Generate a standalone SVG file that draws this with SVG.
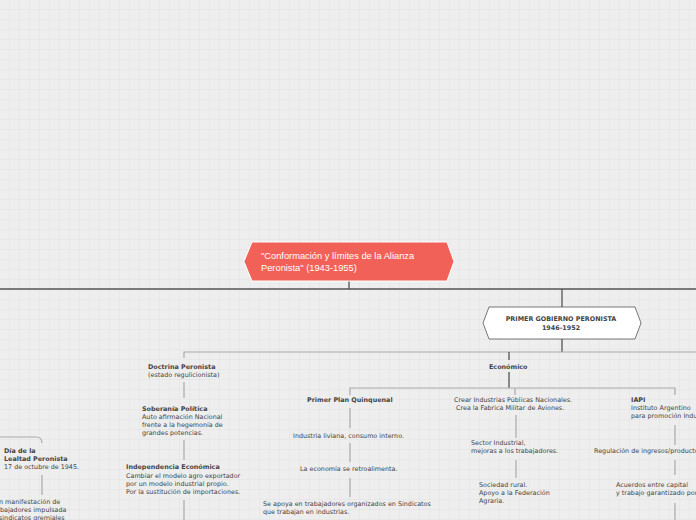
<svg xmlns="http://www.w3.org/2000/svg" width="696" height="520" viewBox="0 0 696 520">
<defs>
<pattern id="grid" width="10" height="10" patternUnits="userSpaceOnUse"><path d="M10 0V10H0" fill="none" stroke="#dcdcdc" stroke-width="0.6"/></pattern>
<style>
text{font-family:"DejaVu Sans",Verdana,sans-serif;font-size:6.4px;fill:#444}
.b{font-weight:bold}
.ln{stroke:#aaa;stroke-width:1.2;fill:none}
.dk{stroke:#555;stroke-width:1.3;fill:none}
</style>
</defs>
<rect width="696" height="520" fill="#eeeeee"/>
<rect width="696" height="520" fill="url(#grid)"/>
<g id="connectors">
<path class="dk" d="M0 289H696M349 281V289M562 289V307M562 339V352"/>
<path class="ln" d="M184 358V352H696"/>
<path class="ln" d="M184 382V398M184 440V460M184 500V520"/>
<path class="ln" d="M0 437H36Q42 437 42 443M42 475V495"/>
<path class="dk" d="M509 352V360M509 372V388"/>
<path class="ln" d="M350 395V388H675V395M515 388V395"/>
<path class="ln" d="M350 408V428M350 443V462M350 478V497"/>
<path class="ln" d="M516 415V438M516 460V478"/>
<path class="ln" d="M675 425V445M675 460V475M675 503V520"/>
</g>
<g id="central">
<polygon points="252,242 447,242 454,261.5 447,281 252,281 244,261.5" fill="#f26157" stroke="#fff" stroke-width="1"/>
<text x="261" y="259" style="fill:#fff;font-family:'Liberation Sans',Arial,sans-serif;font-size:9.3px">"Conformación y límites de la Alianza</text>
<text x="261" y="271" style="fill:#fff;font-family:'Liberation Sans',Arial,sans-serif;font-size:9.3px">Peronista" (1943-1955)</text>
</g>
<g id="primer">
<polygon points="489,307 635,307 641,323 635,339 489,339 483,323" fill="#fff" stroke="#555" stroke-width="0.8"/>
<text class="b" x="561" y="321" text-anchor="middle">PRIMER GOBIERNO PERONISTA</text>
<text class="b" x="561" y="330" text-anchor="middle">1946-1952</text>
</g>
<g id="doctrina"><text class="b" x="148" y="369">Doctrina Peronista</text><text x="148" y="377">(estado regulicionista)</text></g>
<g id="soberania"><text class="b" x="142" y="411">Soberanía Política</text><text x="142" y="419">Auto afirmación Nacional</text><text x="142" y="427">frente a la hegemonía de</text><text x="142" y="435">grandes potencias.</text></g>
<g id="independencia"><text class="b" x="126" y="469">Independencia Económica</text><text x="126" y="478">Cambiar el modelo agro exportador</text><text x="126" y="486">por un modelo industrial propio.</text><text x="126" y="494">Por la sustitución de importaciones.</text></g>
<g id="lealtad"><text class="b" x="4" y="453">Día de la</text><text class="b" x="4" y="461">Lealtad Peronista</text><text x="4" y="469">17 de octubre de 1945.</text></g>
<g id="manifestacion"><text x="-1" y="504">n manifestación de</text><text x="-4" y="512">abajadores impulsada</text><text x="-1" y="520">sindicatos gremiales</text></g>
<g id="economico"><text class="b" x="489" y="369">Económico</text></g>
<g id="plan"><text class="b" x="307" y="402">Primer Plan Quinquenal</text></g>
<g id="liviana"><text x="293" y="438">Industria liviana, consumo interno.</text></g>
<g id="retro"><text x="300" y="471">La economía se retroalimenta.</text></g>
<g id="sindicatos"><text x="263" y="506">Se apoya en trabajadores organizados en Sindicatos</text><text x="263" y="514">que trabajan en industrias.</text></g>
<g id="crear"><text x="454" y="402">Crear  Industrias Públicas Nacionales.</text><text x="456" y="410">Crea la Fabrica Militar de Aviones.</text></g>
<g id="sector"><text x="471" y="445">Sector Industrial,</text><text x="471" y="453">mejoras a los trabajadores.</text></g>
<g id="rural"><text x="479" y="487">Sociedad rural.</text><text x="479" y="495">Apoyo a la Federación</text><text x="479" y="503">Agraria.</text></g>
<g id="iapi"><text class="b" x="631" y="402">IAPI</text><text x="631" y="410">Instituto Argentino</text><text x="631" y="418">para promoción Industrial</text></g>
<g id="regulacion"><text x="594" y="453">Regulación de ingresos/productos</text></g>
<g id="acuerdos"><text x="616" y="487">Acuerdos entre capital</text><text x="616" y="495">y trabajo garantizado por</text></g>
</svg>
